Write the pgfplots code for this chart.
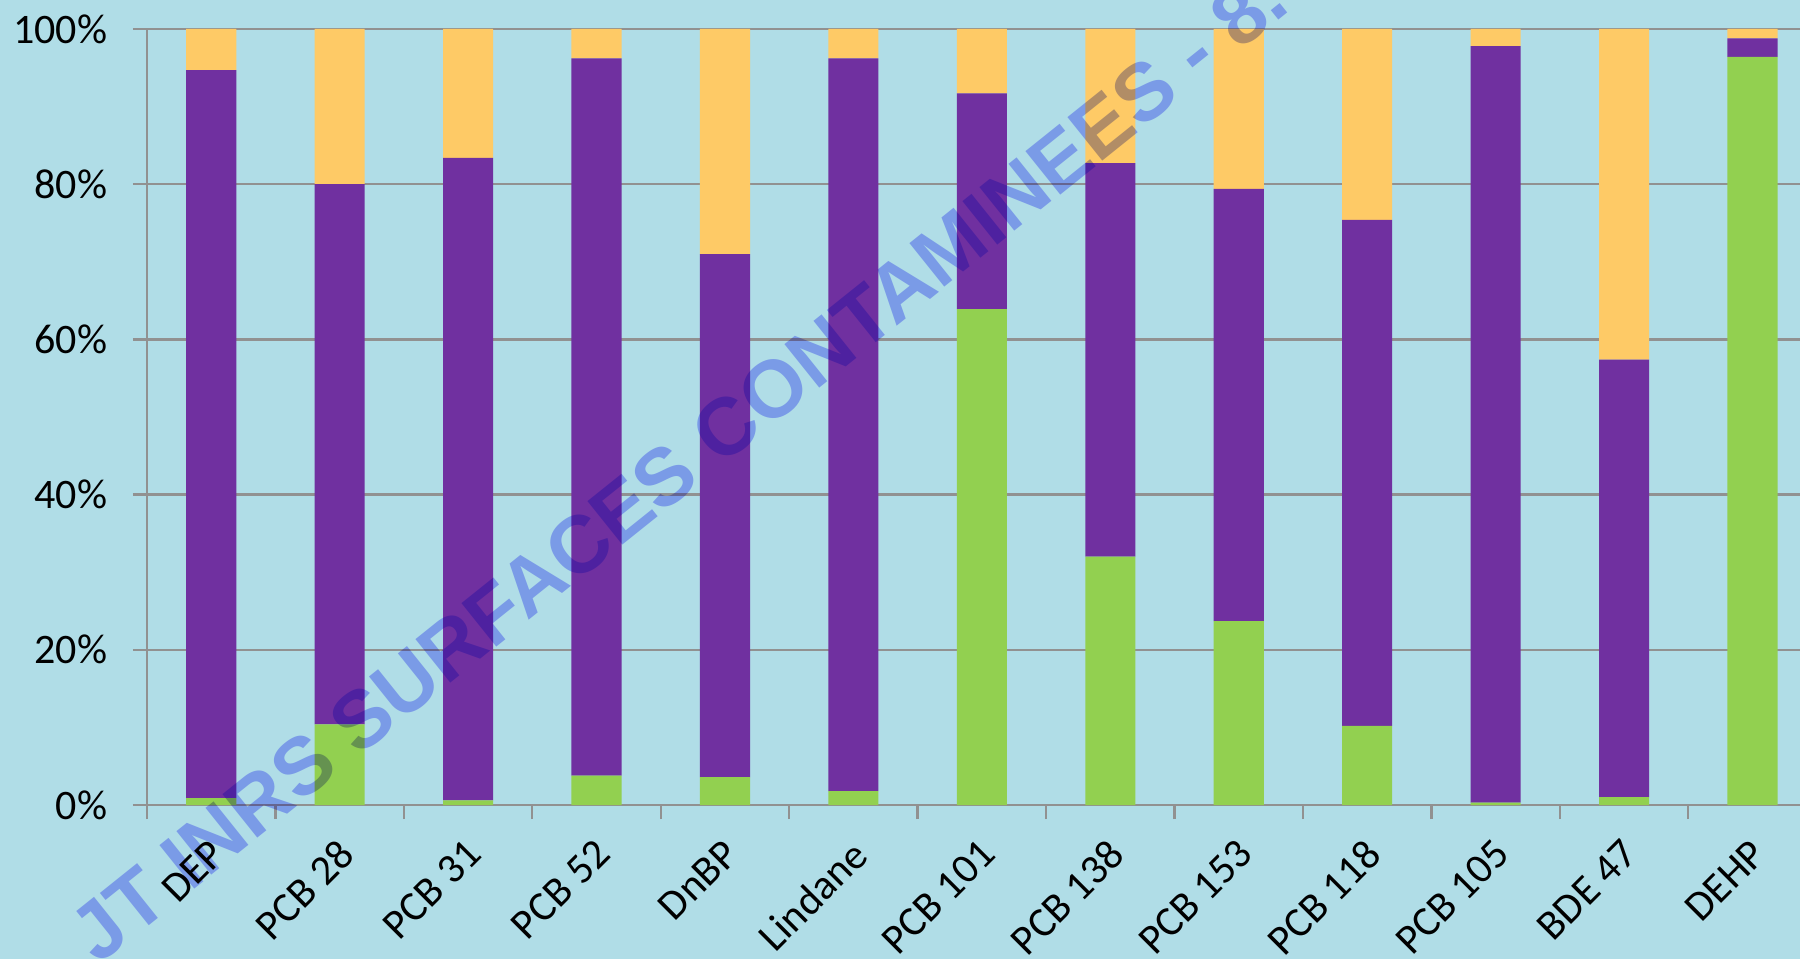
\documentclass[border=0pt]{standalone}
\usepackage{fontspec}
\setmainfont{Carlito}
\newfontfamily\wmfont{Liberation Sans}
\usepackage{pgfplots}
\pgfplotsset{compat=1.18}
\definecolor{bg}{RGB}{176,221,231}
\definecolor{cgreen}{RGB}{146,208,80}
\definecolor{cpurple}{RGB}{112,48,160}
\definecolor{cyellow}{RGB}{254,202,102}
\definecolor{cgrid}{RGB}{145,145,145}
\definecolor{wm}{RGB}{178,179,255}
\pgfplotstableread{
x green purple yellow
0  0.9  93.8  5.3
1  10.4 69.6 20.0
2  0.6  82.8 16.6
3  3.8  92.4  3.8
4  3.6  67.4 29.0
5  1.8  94.4  3.8
6  63.9 27.8  8.3
7  32.0 50.7 17.3
8  23.7 55.7 20.6
9  10.2 65.2 24.6
10 0.3  97.5  2.2
11 1.0  56.4 42.6
12 96.4  2.4  1.2
}\datatable
\begin{document}
\begin{tikzpicture}
\fill[bg] (-44.1bp,-46.2bp) rectangle (495.9bp,241.5bp);
\useasboundingbox (-44.1bp,-46.2bp) rectangle (495.9bp,241.5bp);
\begin{axis}[
  at={(0,0)}, anchor=south west,
  scale only axis, width=495.9bp, height=232.8bp,
  xmin=-0.5, xmax=12.37, ymin=0, ymax=100,
  ybar stacked, bar width=0.39,
  axis x line*=bottom, axis y line*=left,
  axis line style={-, cgrid, line width=0.7bp},
  ytick={0,20,...,100},
  ymajorgrids, grid style={cgrid, line width=0.7bp},
  yticklabel={\pgfmathprintnumber{\tick}\%},
  /pgf/number format/assume math mode=true,
  tick align=outside,
  major tick length=4.2bp,
  tick style={cgrid, line width=0.7bp},
  xtick={-0.5,0.5,1.5,2.5,3.5,4.5,5.5,6.5,7.5,8.5,9.5,10.5,11.5},
  xticklabels={},
  extra x ticks={0,1,2,3,4,5,6,7,8,9,10,11,12},
  extra x tick labels={DEP,PCB 28,PCB 31,PCB 52,DnBP,Lindane,PCB 101,PCB 138,PCB 153,PCB 118,PCB 105,BDE 47,DEHP},
  extra x tick style={major tick length=0pt, xticklabel style={xshift=-1.1bp, yshift=-4.8bp, rotate=45, anchor=north east}},
  ticklabel style={font=\fontsize{12.6bp}{15bp}\selectfont, text=black},
  yticklabel style={xshift=-4.2bp},
  clip=false,
]
\addplot[fill=cgreen, draw=none] table[x=x, y=green] {\datatable};
\addplot[fill=cpurple, draw=none] table[x=x, y=purple] {\datatable};
\addplot[fill=cyellow, draw=none] table[x=x, y=yellow] {\datatable};
\end{axis}
\begin{scope}[blend mode=multiply]
\node[rotate=38.7, text=wm, inner sep=0pt, font=\wmfont\bfseries\fontsize{24.3bp}{28bp}\selectfont] at (159.3bp,101.8bp) {JT INRS SURFACES CONTAMINEES - 8.};
\end{scope}
\end{tikzpicture}
\end{document}
